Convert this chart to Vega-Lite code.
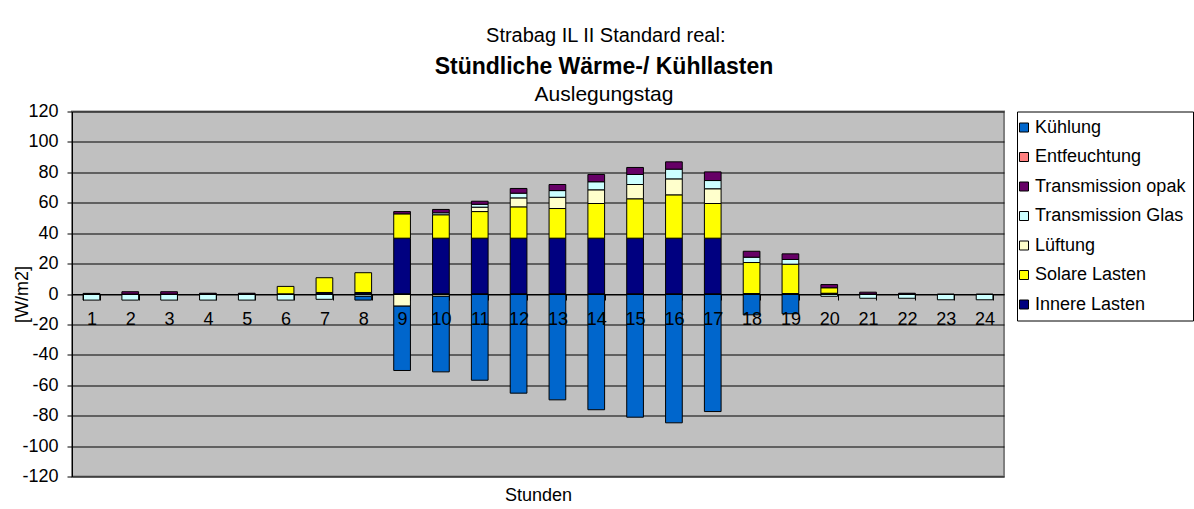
{
  "$schema": "https://vega.github.io/schema/vega-lite/v6.json",
  "background": "white",
  "padding": {"left": 12, "top": 25.5, "right": 0, "bottom": 0},
  "title": {"text": "Strabag IL II Standard real:", "fontSize": 20, "fontWeight": "normal", "color": "black", "anchor": "middle", "frame": "bounds", "offset": 9, "dx": 3},
  "config": {
    "font": "Liberation Sans",
    "view": {"fill": "#C0C0C0", "stroke": "#808080", "strokeWidth": 2},
    "legend": {"orient": "right", "offset": 12, "padding": 7, "fillColor": "white", "strokeColor": "black", "strokeWidth": 1, "labelFontSize": 18, "labelColor": "black", "symbolType": "square", "symbolSize": 81, "symbolStrokeColor": "black", "symbolStrokeWidth": 1, "symbolOffset": -9, "rowPadding": 11.5, "labelOffset": 2, "labelLimit": 300},
    "title": {"color": "black"}
  },
  "vconcat": [
    {
      "width": 932,
      "height": 365,
      "title": {"text": "Stündliche Wärme-/ Kühllasten", "subtitle": "Auslegungstag", "fontSize": 23, "fontWeight": "bold", "color": "black", "subtitleFontSize": 21, "subtitleColor": "black", "subtitlePadding": 4.5, "anchor": "middle", "frame": "group", "dx": 66, "offset": -2},
      "data": {
        "values": [
          {"h": 1, "s": "Transmission Glas", "k": 4, "v": -4},
          {"h": 1, "s": "Transmission opak", "k": 5, "v": 0.4},
          {"h": 2, "s": "Transmission Glas", "k": 4, "v": -4},
          {"h": 2, "s": "Transmission opak", "k": 5, "v": 1.5},
          {"h": 3, "s": "Transmission Glas", "k": 4, "v": -4},
          {"h": 3, "s": "Transmission opak", "k": 5, "v": 1.5},
          {"h": 4, "s": "Transmission Glas", "k": 4, "v": -4},
          {"h": 4, "s": "Transmission opak", "k": 5, "v": 0.5},
          {"h": 5, "s": "Transmission Glas", "k": 4, "v": -4},
          {"h": 5, "s": "Transmission opak", "k": 5, "v": 0.5},
          {"h": 6, "s": "Solare Lasten", "k": 2, "v": 5},
          {"h": 6, "s": "Transmission Glas", "k": 4, "v": -4},
          {"h": 7, "s": "Innere Lasten", "k": 1, "v": 1},
          {"h": 7, "s": "Solare Lasten", "k": 2, "v": 9.7},
          {"h": 7, "s": "Transmission Glas", "k": 4, "v": -3.5},
          {"h": 8, "s": "Innere Lasten", "k": 1, "v": 1},
          {"h": 8, "s": "Solare Lasten", "k": 2, "v": 13},
          {"h": 8, "s": "Transmission Glas", "k": 4, "v": -1.5},
          {"h": 8, "s": "Kühlung", "k": 7, "v": -2.5},
          {"h": 9, "s": "Innere Lasten", "k": 1, "v": 36.7},
          {"h": 9, "s": "Solare Lasten", "k": 2, "v": 16},
          {"h": 9, "s": "Lüftung", "k": 3, "v": -8},
          {"h": 9, "s": "Transmission opak", "k": 5, "v": 1.5},
          {"h": 9, "s": "Kühlung", "k": 7, "v": -42.3},
          {"h": 10, "s": "Innere Lasten", "k": 1, "v": 36.7},
          {"h": 10, "s": "Solare Lasten", "k": 2, "v": 15.4},
          {"h": 10, "s": "Lüftung", "k": 3, "v": -1.5},
          {"h": 10, "s": "Transmission Glas", "k": 4, "v": 1.3},
          {"h": 10, "s": "Transmission opak", "k": 5, "v": 2.2},
          {"h": 10, "s": "Kühlung", "k": 7, "v": -49.7},
          {"h": 11, "s": "Innere Lasten", "k": 1, "v": 36.7},
          {"h": 11, "s": "Solare Lasten", "k": 2, "v": 17.5},
          {"h": 11, "s": "Lüftung", "k": 3, "v": 2.9},
          {"h": 11, "s": "Transmission Glas", "k": 4, "v": 1.9},
          {"h": 11, "s": "Transmission opak", "k": 5, "v": 2},
          {"h": 11, "s": "Kühlung", "k": 7, "v": -56.7},
          {"h": 12, "s": "Innere Lasten", "k": 1, "v": 36.7},
          {"h": 12, "s": "Solare Lasten", "k": 2, "v": 20.6},
          {"h": 12, "s": "Lüftung", "k": 3, "v": 5.9},
          {"h": 12, "s": "Transmission Glas", "k": 4, "v": 3.1},
          {"h": 12, "s": "Transmission opak", "k": 5, "v": 3.1},
          {"h": 12, "s": "Kühlung", "k": 7, "v": -65.2},
          {"h": 13, "s": "Innere Lasten", "k": 1, "v": 36.7},
          {"h": 13, "s": "Solare Lasten", "k": 2, "v": 19.5},
          {"h": 13, "s": "Lüftung", "k": 3, "v": 7.4},
          {"h": 13, "s": "Transmission Glas", "k": 4, "v": 4.4},
          {"h": 13, "s": "Transmission opak", "k": 5, "v": 4},
          {"h": 13, "s": "Kühlung", "k": 7, "v": -69.6},
          {"h": 14, "s": "Innere Lasten", "k": 1, "v": 36.7},
          {"h": 14, "s": "Solare Lasten", "k": 2, "v": 22.8},
          {"h": 14, "s": "Lüftung", "k": 3, "v": 9},
          {"h": 14, "s": "Transmission Glas", "k": 4, "v": 5.3},
          {"h": 14, "s": "Transmission opak", "k": 5, "v": 4.8},
          {"h": 14, "s": "Kühlung", "k": 7, "v": -76.1},
          {"h": 15, "s": "Innere Lasten", "k": 1, "v": 36.7},
          {"h": 15, "s": "Solare Lasten", "k": 2, "v": 25.9},
          {"h": 15, "s": "Lüftung", "k": 3, "v": 9.4},
          {"h": 15, "s": "Transmission Glas", "k": 4, "v": 6.6},
          {"h": 15, "s": "Transmission opak", "k": 5, "v": 4.6},
          {"h": 15, "s": "Kühlung", "k": 7, "v": -81},
          {"h": 16, "s": "Innere Lasten", "k": 1, "v": 36.7},
          {"h": 16, "s": "Solare Lasten", "k": 2, "v": 28.5},
          {"h": 16, "s": "Lüftung", "k": 3, "v": 10.5},
          {"h": 16, "s": "Transmission Glas", "k": 4, "v": 6.4},
          {"h": 16, "s": "Transmission opak", "k": 5, "v": 4.8},
          {"h": 16, "s": "Kühlung", "k": 7, "v": -84.7},
          {"h": 17, "s": "Innere Lasten", "k": 1, "v": 36.7},
          {"h": 17, "s": "Solare Lasten", "k": 2, "v": 22.8},
          {"h": 17, "s": "Lüftung", "k": 3, "v": 9.7},
          {"h": 17, "s": "Transmission Glas", "k": 4, "v": 5.4},
          {"h": 17, "s": "Transmission opak", "k": 5, "v": 5.7},
          {"h": 17, "s": "Kühlung", "k": 7, "v": -77.3},
          {"h": 18, "s": "Innere Lasten", "k": 1, "v": 0.3},
          {"h": 18, "s": "Solare Lasten", "k": 2, "v": 20.4},
          {"h": 18, "s": "Transmission Glas", "k": 4, "v": 3.5},
          {"h": 18, "s": "Transmission opak", "k": 5, "v": 3.9},
          {"h": 18, "s": "Kühlung", "k": 7, "v": -13.7},
          {"h": 19, "s": "Innere Lasten", "k": 1, "v": 0.3},
          {"h": 19, "s": "Solare Lasten", "k": 2, "v": 19.3},
          {"h": 19, "s": "Transmission Glas", "k": 4, "v": 3.1},
          {"h": 19, "s": "Transmission opak", "k": 5, "v": 3.7},
          {"h": 19, "s": "Kühlung", "k": 7, "v": -13},
          {"h": 20, "s": "Innere Lasten", "k": 1, "v": 0.5},
          {"h": 20, "s": "Solare Lasten", "k": 2, "v": 3.6},
          {"h": 20, "s": "Transmission Glas", "k": 4, "v": -1.5},
          {"h": 20, "s": "Transmission opak", "k": 5, "v": 2.1},
          {"h": 21, "s": "Transmission Glas", "k": 4, "v": -2.8},
          {"h": 21, "s": "Transmission opak", "k": 5, "v": 1.2},
          {"h": 22, "s": "Transmission Glas", "k": 4, "v": -2.8},
          {"h": 22, "s": "Transmission opak", "k": 5, "v": 0.5},
          {"h": 23, "s": "Transmission Glas", "k": 4, "v": -3.8},
          {"h": 24, "s": "Transmission Glas", "k": 4, "v": -3.8}
        ]
      },
      "mark": {"type": "bar", "stroke": "black", "strokeWidth": 1},
      "encoding": {
        "x": {
          "field": "h", "type": "ordinal",
          "scale": {"paddingInner": 0.57, "paddingOuter": 0.285},
          "axis": {"title": "Stunden", "orient": "bottom", "offset": -182.5, "labelAngle": 0, "tickBand": "extent", "tickSize": 6, "tickColor": "black", "domainColor": "black", "labelPadding": 10, "labelFontSize": 18, "labelColor": "black", "zindex": 1, "grid": false, "titleY": 192, "titleFontSize": 18, "titleFontWeight": "normal", "titleColor": "black"}
        },
        "y": {
          "field": "v", "type": "quantitative", "stack": "zero",
          "scale": {"domain": [-120, 120], "nice": false},
          "axis": {"title": "[W/m2]", "values": [-120, -100, -80, -60, -40, -20, 0, 20, 40, 60, 80, 100, 120], "labelExpr": "'' + datum.value", "tickSize": 5, "tickColor": "black", "domainColor": "black", "labelPadding": 9, "labelFontSize": 18, "labelColor": "black", "gridColor": "black", "gridWidth": 1, "gridOpacity": 1, "titleFontSize": 18, "titleFontWeight": "normal", "titleColor": "black", "titleX": -50, "titleBaseline": "middle"}
        },
        "color": {
          "field": "s", "type": "nominal",
          "scale": {
            "domain": ["Kühlung", "Entfeuchtung", "Transmission opak", "Transmission Glas", "Lüftung", "Solare Lasten", "Innere Lasten"],
            "range": ["#0066CC", "#FF8080", "#660066", "#CCFFFF", "#FFFFCC", "#FFFF00", "#000080"]
          },
          "legend": {"title": null}
        },
        "order": {"field": "k", "type": "quantitative", "sort": "ascending"}
      }
    }
  ]
}
